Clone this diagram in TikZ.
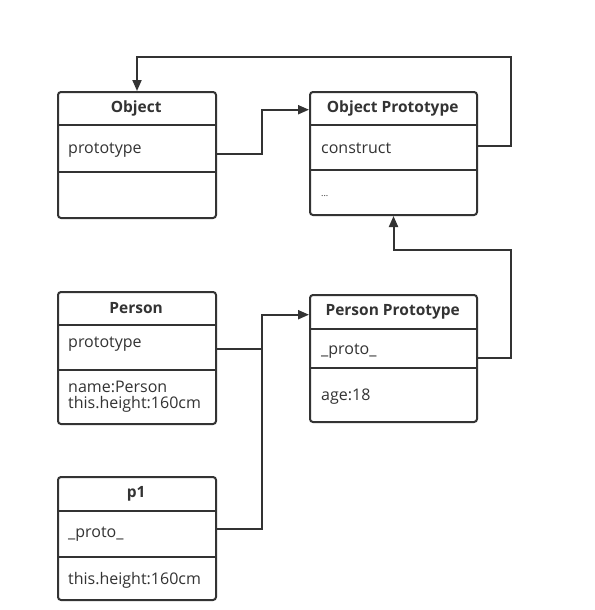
\documentclass[tikz,border=0pt]{standalone}
\usepackage{fontspec}
\setmainfont{Open Sans}
\usetikzlibrary{arrows.meta}
\definecolor{lc}{HTML}{333333}
\begin{document}
\begin{tikzpicture}[x=1pt,y=-1pt,
  box/.style={draw=lc, line width=2pt, rounded corners=3pt, inner sep=0pt, anchor=north west},
  row/.style={inner sep=0pt, anchor=north west, minimum width=#1},
  title/.style={font=\bfseries\fontsize{15.5}{18}\selectfont, text=lc},
  txt/.style={font=\fontsize{16}{19}\selectfont, text=lc, anchor=west, inner sep=0pt, align=left},
  div/.style={draw=lc, line width=2pt},
  conn/.style={draw=lc, line width=2pt},
  tip/.style={-{Triangle[length=11pt,width=9pt]}}
]
\useasboundingbox (0,0) rectangle (594,610);
\fill[white] (0,0) rectangle (594,610);

% Object
\node[box, minimum width=158, minimum height=126] (obj) at (57,91) {};
\node[row=158, minimum height=34, title] (objh) at (57,91) {Object};
\node[row=158, minimum height=48] (objf) at (57,124) {};
\node[row=158, minimum height=45] (objg) at (57,172) {};
\draw[div] (objh.south west) -- (objh.south east);
\draw[div] (objf.south west) -- (objf.south east);
\node[txt] (objt1) at (68,150) {prototype};

% Object Prototype
\node[box, minimum width=167, minimum height=123] (op) at (309,91) {};
\node[row=167, minimum height=34, title] (oph) at (309,91) {Object Prototype};
\node[row=167, minimum height=46] (opf) at (309,124) {};
\node[row=167, minimum height=44] (opg) at (309,170) {};
\draw[div] (oph.south west) -- (oph.south east);
\draw[div] (opf.south west) -- (opf.south east);
\node[txt] (opt1) at (321,148) {construct};
\node[txt, font=\fontsize{9}{11}\selectfont] (opt2) at (321,196) {...};

% Person
\node[box, minimum width=158, minimum height=132] (p) at (57,291) {};
\node[row=158, minimum height=34, title] (ph) at (57,291) {Person};
\node[row=158, minimum height=46] (pf) at (57,324) {};
\node[row=158, minimum height=53] (pg) at (57,370) {};
\draw[div] (ph.south west) -- (ph.south east);
\draw[div] (pf.south west) -- (pf.south east);
\node[txt] (pt1) at (68,344) {prototype};
\node[txt] (pt2) at (68,397) {name:Person\\[-3pt]this.height:160cm};

% Person Prototype
\node[box, minimum width=167, minimum height=127] (pp) at (309,294) {};
\node[row=167, minimum height=35, title] (pph) at (309,294) {Person Prototype};
\node[row=167, minimum height=40] (ppf) at (309,328) {};
\node[row=167, minimum height=53] (ppg) at (309,368) {};
\draw[div] (pph.south west) -- (pph.south east);
\draw[div] (ppf.south west) -- (ppf.south east);
\node[txt] (ppt1) at (321,351) {\_proto\_};
\node[txt] (ppt2) at (321,397) {age:18};

% p1
\node[box, minimum width=158, minimum height=123] (q) at (57,476) {};
\node[row=158, minimum height=35, title] (qh) at (57,476) {p1};
\node[row=158, minimum height=47] (qf) at (57,510) {};
\node[row=158, minimum height=42] (qg) at (57,557) {};
\draw[div] (qh.south west) -- (qh.south east);
\draw[div] (qf.south west) -- (qf.south east);
\node[txt] (qt1) at (68,534) {\_proto\_};
\node[txt] (qt2) at (68,580) {this.height:160cm};

% connectors
\draw[conn,tip] ([yshift=-6pt]objf.east) -- ++(47,0) |- ([yshift=-1.5pt]oph.west);
\draw[conn,tip] ([yshift=1pt]opf.east) -- ++(35,0) |- ([yshift=34pt]obj.north) -- (obj.north);
\draw[conn,tip] ([yshift=-10pt]ppf.east) -- ++(35,0) |- ([yshift=-34pt]op.south) -- (op.south);
\draw[conn,tip] ([yshift=-2pt]pf.east) -- ++(47,0) |- ([yshift=-3pt]pph.west);
\draw[conn] ([yshift=4.5pt]qf.east) -| ([xshift=-47pt,yshift=-3pt]pph.west);
\end{tikzpicture}
\end{document}
